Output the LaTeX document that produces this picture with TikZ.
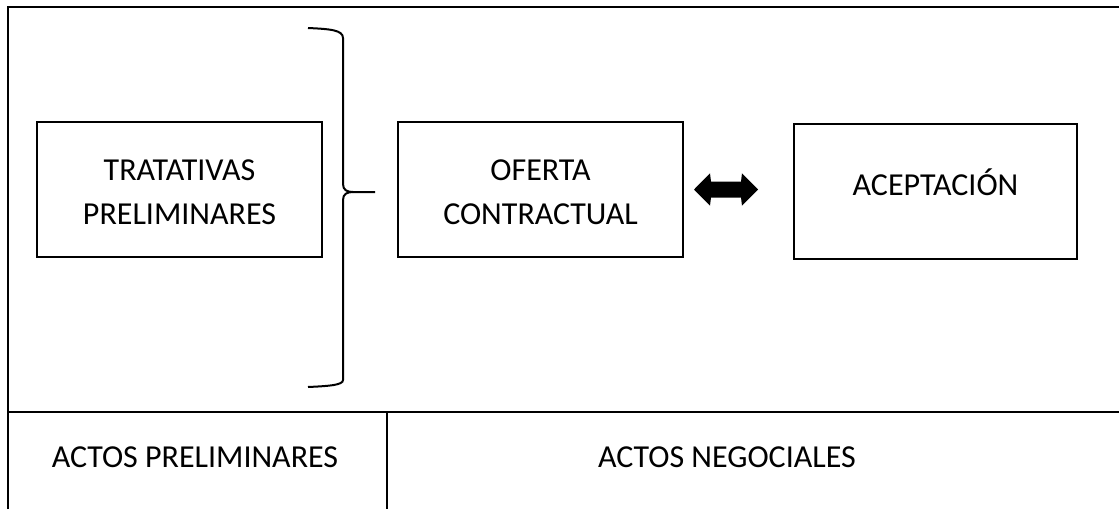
\documentclass[tikz,border=0pt]{standalone}
\usepackage{fontspec}
\setmainfont{Carlito}
\begin{document}
\begin{tikzpicture}[x=1pt,y=-1pt,line width=2pt]

\useasboundingbox (0,0) rectangle (1119,509);

  \tikzset{caja/.style={draw, inner sep=0pt, minimum width=285pt, minimum height=135pt},
           texto/.style={font=\fontsize{32}{44}\selectfont, align=center, inner sep=0pt}}

% marco
\draw[] (8,509) -- (8,7) -- (1119,7);
\draw[] (8,412) -- (1119,412);
\draw[] (387,412) -- (387,509);

\node[caja] (tra) at (179.5,189.5) {};
\node[caja] (ofe) at (540.5,189.5) {};
\node[caja, minimum width=283pt] (ace) at (935.5,191.5) {};

\node[texto] (tratxt) at (179.5,192) {TRATATIVAS\\PRELIMINARES};
\node[texto] (ofetxt) at (540.5,192) {OFERTA\\CONTRACTUAL};
\node[texto, anchor=base] (acetxt) at (935.5,195) {ACEPTACIÓN};

\node[texto, anchor=base] (prel) at (195,467) {ACTOS PRELIMINARES};
\node[texto, anchor=base] (neg) at (727,467) {ACTOS NEGOCIALES};

% llave
\draw[] (308,28) .. controls (330,29) and (343,30) .. (343,38) -- (343,184)
  .. controls (343,190) and (347,192) .. (353,192) -- (375,192);
\draw[] (308,387) .. controls (330,386) and (343,385) .. (343,380) -- (343,200)
  .. controls (343,194) and (347,192) .. (353,192);

% flecha doble
\fill (694,189.5) -- (710,173.3) -- (711,181.5) -- (741,181.5) -- (742,173.3) -- (758,189.5)
  -- (742,205.7) -- (741,197.5) -- (711,197.5) -- (710,205.7) -- cycle;

\end{tikzpicture}
\end{document}
